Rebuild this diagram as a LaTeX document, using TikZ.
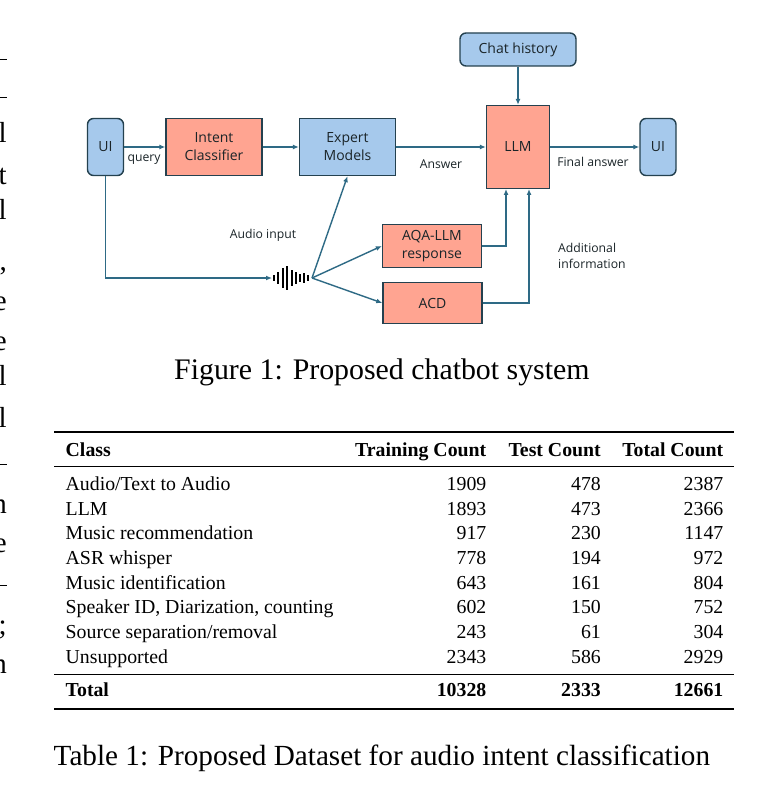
\documentclass[tikz,border=0pt]{standalone}
\usepackage{fontspec}
\setmainfont{Liberation Serif}
\newfontfamily\diag{Open Sans}
\usetikzlibrary{arrows.meta}
\definecolor{bluef}{HTML}{A6C9EC}
\definecolor{redf}{HTML}{FFA491}
\definecolor{edgec}{HTML}{24414F}
\definecolor{arrc}{HTML}{2E6A85}
\definecolor{txtc}{HTML}{1A2428}
\tikzset{
  redbox/.style={draw=edgec,line width=1.4pt,fill=redf,align=center,inner sep=0pt,font=\diag\fontsize{14}{18}\selectfont,text=txtc},
  bluebox/.style={redbox,fill=bluef},
  roundbox/.style={bluebox,rounded corners=6pt},
  conn/.style={draw=arrc,line width=1.4pt,-{Latex[length=6pt,width=5pt]}},
  lab/.style={font=\diag\fontsize{12.2}{16}\selectfont,text=txtc,align=left,inner sep=0pt},
  capt/.style={font=\fontsize{29.2}{32}\selectfont,inner sep=0pt,anchor=base west},
  cell/.style={font=\fontsize{19.8}{22}\selectfont,inner sep=0pt},
  cl/.style={cell,anchor=base west},
  cr/.style={cell,anchor=base east},
  bl/.style={cl,font=\bfseries\fontsize{19.8}{22}\selectfont},
  br/.style={cr,font=\bfseries\fontsize{19.8}{22}\selectfont},
  rulea/.style={line width=1.5pt,black},
  ruleb/.style={line width=0.8pt,black},
  frag/.style={font=\fontsize{29}{32}\selectfont,inner sep=0pt,anchor=base east},
  wave/.style={line width=1.2pt,black}
}
\begin{document}
\begin{tikzpicture}[x=1pt,y=-1pt]
\useasboundingbox (0,0) rectangle (763,802);
\fill[white] (0,0) rectangle (763,802);
% clipped text fragments
\begin{scope}
\clip (0,40) rectangle (7.5,690);
\draw[ruleb] (-5,59) -- (7,59);
\draw[ruleb] (-5,97) -- (7,97);
\node[frag] at (7,143) {l};
\node[frag] at (7,185) {t};
\node[frag] at (7,219) {l};
\node[frag] at (7,270) {,};
\node[frag] at (7,310) {e};
\node[frag] at (7,350) {e};
\node[frag] at (7,385) {l};
\node[frag] at (7,427) {l};
\draw[ruleb] (-5,464) -- (7,464);
\node[frag] at (7,513) {n};
\node[frag] at (7,552) {e};
\draw[ruleb] (-5,585) -- (7,585);
\node[frag] at (7,634) {;};
\node[frag] at (7,673) {n};
\end{scope}
% nodes
\node[roundbox,minimum width=116pt,minimum height=33pt] (chat) at (518,49.5) {\raisebox{-1.5pt}{Chat history}};
\node[roundbox,minimum width=36pt,minimum height=57pt] (ui1) at (105.5,147) {\raisebox{-0.5pt}{UI}};
\node[redbox,minimum width=96pt,minimum height=57pt] (intent) at (214,147) {Intent\\Classifier};
\node[bluebox,minimum width=96pt,minimum height=57pt] (expert) at (347.5,147) {Expert\\Models};
\node[redbox,minimum width=63pt,minimum height=83pt] (llm) at (518,147) {LLM};
\node[roundbox,minimum width=36pt,minimum height=57pt] (ui2) at (658,147) {\raisebox{-0.5pt}{UI}};
\node[redbox,minimum width=99pt,minimum height=43pt] (aqa) at (432,246) {AQA-LLM\\response};
\node[redbox,minimum width=99pt,minimum height=41pt] (acd) at (432.5,303) {ACD};
\coordinate (audL) at (272,278);
\coordinate (audR) at (312,278);
% waveform
\foreach \x/\h in {274/3,278/6,283/10,287/12,292/8,296/6,300/4,304/5,308/3}
  \draw[wave] (\x,278-\h) -- (\x,278+\h);
% connectors
\draw[conn] (ui1.east) -- (intent.west);
\draw[conn] (intent.east) -- (expert.west);
\draw[conn] (expert.east) -- (llm.west);
\draw[conn] (llm.east) -- (ui2.west);
\draw[conn] (chat.south) -- (llm.north);
\draw[conn] (ui1.south) |- (audL);
\draw[conn] (audR) -- (expert.south);
\draw[conn] (audR) -- (aqa.west);
\draw[conn] (audR) -- (acd.west);
\draw[conn] (aqa.east) -| (506,189);
\draw[conn] (acd.east) -| (529,189);
% labels
\node[lab] (q) at (144,160) {query};
\node[lab] (ans) at (441,164) {Answer};
\node[lab] (fin) at (593,162) {Final answer};
\node[lab] (ai) at (263,235.5) {Audio input};
\node[lab,anchor=north west,font=\diag\fontsize{12.2}{16.5}\selectfont] (add) at (558,243) {Additional\\information};
% captions
\node[capt,font=\fontsize{29.85}{32}\selectfont] (c1) at (174,379) {Figure 1: Proposed chatbot system};
\node[capt] (c2) at (53.5,765) {Table 1: Proposed Dataset for audio intent classification};
% table
\draw[rulea] (54,432) -- (734,432);
\draw[ruleb] (54,466) -- (734,466);
\draw[ruleb] (54,674) -- (734,674);
\draw[rulea] (54,709) -- (734,709);
\node[bl] at (65.5,456) {Class};
\node[br] at (486.5,456) {Training Count};
\node[br] at (601,456) {Test Count};
\node[br] at (723.5,456) {Total Count};
\foreach \y/\a/\b/\c/\d in {
 490/Audio\slash Text to Audio/1909/478/2387,
 515/LLM/1893/473/2366,
 539/Music recommendation/917/230/1147,
 564/ASR whisper/778/194/972,
 589/Music identification/643/161/804,
 613/{Speaker ID, Diarization, counting}/602/150/752,
 638/Source separation\slash removal/243/61/304,
 663/Unsupported/2343/586/2929}{
  \node[cl] at (65.5,\y) {\a};
  \node[cr] at (486.5,\y) {\b};
  \node[cr] at (601,\y) {\c};
  \node[cr] at (723.5,\y) {\d};
}
\node[bl] at (65.5,696) {Total};
\node[br] at (486.5,696) {10328};
\node[br] at (601,696) {2333};
\node[br] at (723.5,696) {12661};
\end{tikzpicture}
\end{document}
